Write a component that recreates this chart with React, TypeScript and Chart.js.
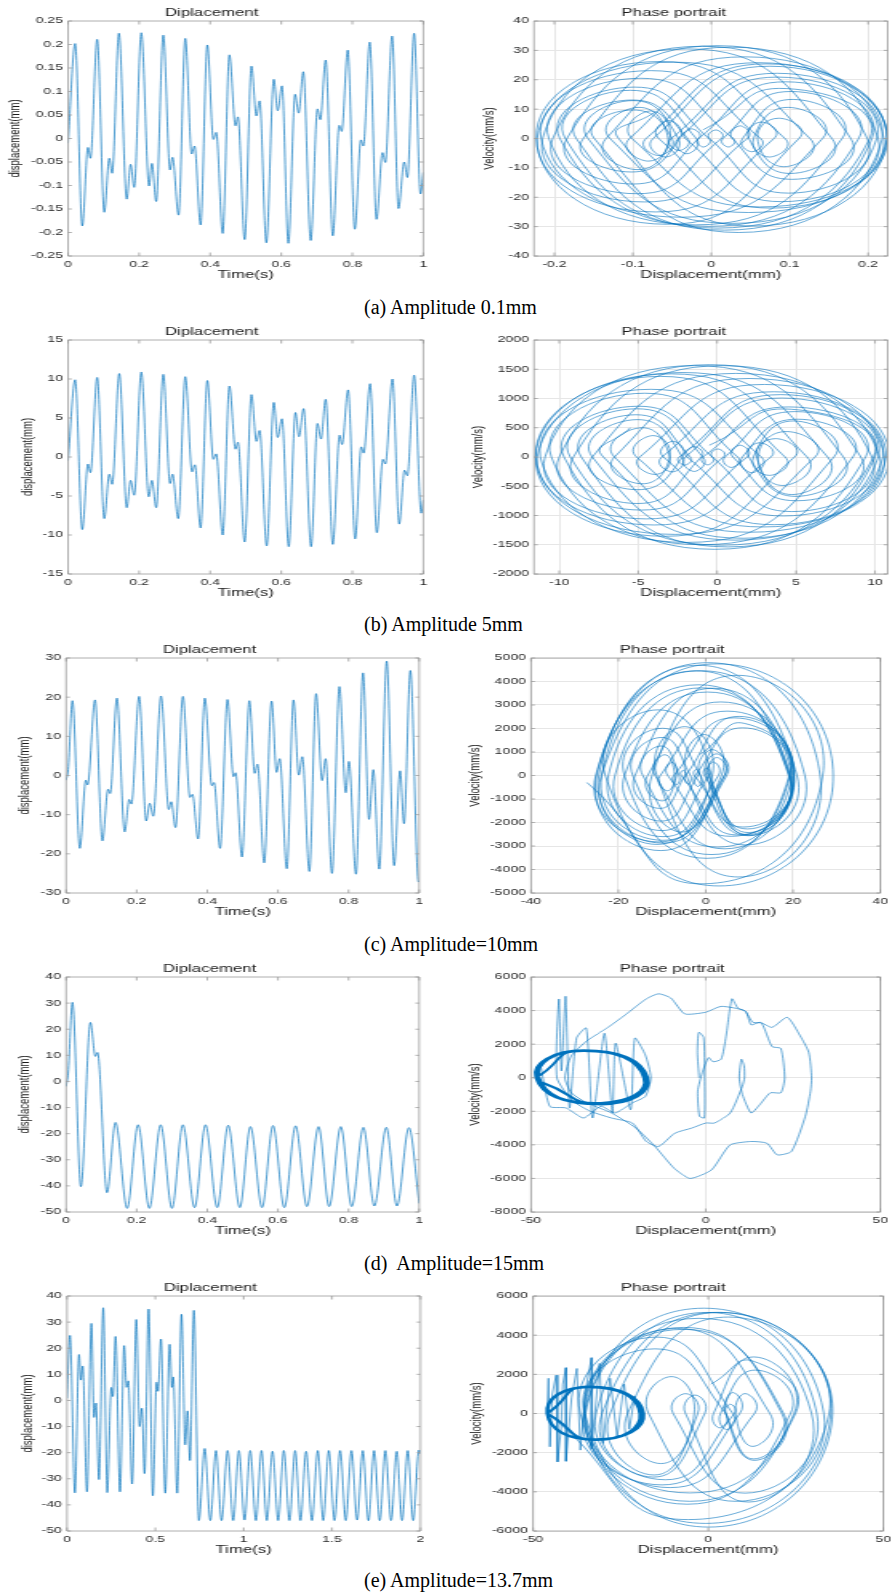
import React, { useEffect, useRef } from 'react';
import { Chart, registerables } from 'chart.js';

Chart.register(...registerables);

const SX = 1.6; // horizontal stretch of the original figure
const LINE = 'rgb(0,114,189)';
const BOX = '#9a9a9a';
const TICK_TXT = '#2a2a2a';
const GRID = '#e6e6e6';
const SANS = '"Liberation Sans", Arial, Helvetica, sans-serif';

// ---------- (a) displacement: extrema ----------
const dispAT = [0, 0.020, 0.040, 0.056, 0.063, 0.082, 0.102, 0.116, 0.124, 0.143, 0.165, 0.176, 0.186, 0.206, 0.228, 0.236, 0.248, 0.268, 0.287, 0.294, 0.311, 0.330, 0.348, 0.356, 0.373, 0.392, 0.409, 0.417, 0.435, 0.454, 0.471, 0.478, 0.497, 0.516, 0.530, 0.539, 0.558, 0.579, 0.590, 0.602, 0.620, 0.639, 0.649, 0.662, 0.683, 0.702, 0.710, 0.725, 0.745, 0.763, 0.770, 0.787, 0.807, 0.824, 0.831, 0.849, 0.868, 0.885, 0.893, 0.912, 0.930, 0.946, 0.955, 0.974, 0.992, 1.0];
const dispAY = [-0.010, 0.202, -0.186, -0.019, -0.042, 0.211, -0.157, -0.042, -0.074, 0.224, -0.129, -0.055, -0.104, 0.225, -0.101, -0.053, -0.134, 0.220, -0.067, -0.040, -0.163, 0.213, -0.033, -0.016, -0.184, 0.199, -0.002, 0.013, -0.202, 0.178, 0.027, 0.046, -0.215, 0.154, 0.048, 0.080, -0.222, 0.126, 0.059, 0.112, -0.223, 0.094, 0.054, 0.142, -0.217, 0.063, 0.040, 0.167, -0.207, 0.028, 0.015, 0.188, -0.193, -0.003, -0.016, 0.205, -0.172, -0.030, -0.051, 0.218, -0.149, -0.050, -0.083, 0.224, -0.118, -0.072];
const phaseAX = [-0.010, 0.096, 0.202, 0.008, -0.186, -0.103, -0.019, -0.031, -0.042, 0.085, 0.211, 0.027, -0.157, -0.100, -0.042, -0.058, -0.074, 0.075, 0.224, 0.048, -0.129, -0.092, -0.055, -0.080, -0.104, 0.061, 0.225, 0.062, -0.101, -0.077, -0.053, -0.094, -0.134, 0.043, 0.220, 0.077, -0.067, -0.054, -0.040, -0.102, -0.163, 0.025, 0.213, 0.090, -0.033, -0.025, -0.016, -0.100, -0.184, 0.008, 0.199, 0.099, -0.002, 0.006, 0.013, -0.095, -0.202, -0.012, 0.178, 0.103, 0.027, 0.037, 0.046, -0.085, -0.215, -0.031, 0.154, 0.101, 0.048, 0.064, 0.080, -0.071, -0.222, -0.048, 0.126, 0.093, 0.059, 0.086, 0.112, -0.056, -0.223, -0.065, 0.094, 0.074, 0.054, 0.098, 0.142, -0.038, -0.217, -0.077, 0.063, 0.052, 0.040, 0.104, 0.167, -0.020, -0.207, -0.090, 0.028, 0.022, 0.015, 0.102, 0.188, -0.003, -0.193, -0.098, -0.003, -0.010, -0.016, 0.095, 0.205, 0.017, -0.172, -0.101, -0.030, -0.041, -0.051, 0.084, 0.218, 0.035, -0.149, -0.100, -0.050, -0.067, -0.083, 0.071, 0.224, 0.053, -0.118, -0.072];
const phaseAV = [3, 17, 0, -30.5, 0, 16.4, 0, -5.2, 0, 20.9, 0, -28.9, 0, 12.9, 0, -6.3, 0, 24.6, 0, -25.2, 0, 10.6, 0, -7.7, 0, 25.8, 0, -23.3, 0, 9.4, 0, -10.6, 0, 27.8, 0, -23.7, 0, 6.1, 0, -11.4, 0, 31.1, 0, -21.5, 0, 3.3, 0, -15.5, 0, 31.6, 0, -18.6, 0, 2.9, 0, -18.8, 0, 31.4, 0, -13.9, 0, 4.3, 0, -21.6, 0, 30.5, 0, -11.9, 0, 5.6, 0, -25.0, 0, 26.0, 0, -9.6, 0, 6.9, 0, -29.2, 0, 26.2, 0, -6.3, 0, 10.6, 0, -26.8, 0, 23.1, 0, -4.5, 0, 13.3, 0, -29.4, 0, 20.5, 0, -2.9, 0, 16.0, 0, -29.9, 0, 17.5, 0, -2.9, 0, 19.3, 0, -31.2, 0, 13.1, 0, -4.1, 0, 22.2, 0, -32.0, 0, 9.7, 0, -5.8, 0, 25.4, 0, -29.8, 0, 9];

// ---------- (b) ----------
const dispBT = [0, 0.020, 0.040, 0.056, 0.063, 0.082, 0.102, 0.116, 0.124, 0.144, 0.165, 0.176, 0.186, 0.206, 0.227, 0.236, 0.248, 0.268, 0.287, 0.294, 0.310, 0.330, 0.349, 0.357, 0.373, 0.392, 0.409, 0.417, 0.435, 0.454, 0.471, 0.478, 0.497, 0.516, 0.530, 0.539, 0.559, 0.579, 0.590, 0.602, 0.621, 0.640, 0.650, 0.663, 0.684, 0.702, 0.712, 0.725, 0.745, 0.764, 0.771, 0.788, 0.808, 0.825, 0.832, 0.850, 0.869, 0.886, 0.893, 0.913, 0.932, 0.947, 0.955, 0.974, 0.994, 1.0];
const dispBY = [-0.5, 9.9, -9.3, -0.9, -2.0, 10.2, -7.9, -2.2, -3.5, 10.7, -6.5, -3.0, -4.9, 10.9, -5.1, -3.0, -6.5, 10.6, -3.4, -2.2, -7.9, 10.3, -1.9, -1.0, -9.1, 9.8, -0.3, 0.4, -10.0, 9.1, 1.0, 1.9, -10.9, 8.0, 2.0, 3.4, -11.4, 7.0, 2.5, 4.9, -11.5, 5.7, 2.6, 6.2, -11.5, 4.3, 2.3, 7.4, -11.2, 2.8, 1.6, 8.6, -10.5, 1.3, 0.5, 9.4, -9.7, -0.3, -0.9, 10.0, -8.6, -1.7, -2.4, 10.5, -7.2, -5.5];
const phaseBX = [-0.5, 4.7, 9.9, 0.3, -9.3, -5.1, -0.9, -1.45, -2.0, 4.1, 10.2, 1.15, -7.9, -5.05, -2.2, -2.85, -3.5, 3.6, 10.7, 2.1, -6.5, -4.75, -3.0, -3.95, -4.9, 3.0, 10.9, 2.9, -5.1, -4.05, -3.0, -4.75, -6.5, 2.05, 10.6, 3.6, -3.4, -2.8, -2.2, -5.05, -7.9, 1.2, 10.3, 4.2, -1.9, -1.45, -1.0, -5.05, -9.1, 0.35, 9.8, 4.75, -0.3, 0.05, 0.4, -4.8, -10.0, -0.45, 9.1, 5.05, 1.0, 1.45, 1.9, -4.5, -10.9, -1.45, 8.0, 5.0, 2.0, 2.7, 3.4, -4.0, -11.4, -2.2, 7.0, 4.75, 2.5, 3.7, 4.9, -3.3, -11.5, -2.9, 5.7, 4.15, 2.6, 4.4, 6.2, -2.65, -11.5, -3.6, 4.3, 3.3, 2.3, 4.85, 7.4, -1.9, -11.2, -4.2, 2.8, 2.2, 1.6, 5.1, 8.6, -0.95, -10.5, -4.6, 1.3, 0.9, 0.5, 4.95, 9.4, -0.15, -9.7, -5.0, -0.3, -0.6, -0.9, 4.55, 10.0, 0.7, -8.6, -5.15, -1.7, -2.05, -2.4, 4.05, 10.5, 1.65, -7.2, -5.5];
const phaseBV = [200, 816, 0, -1507, 0, 824, 0, -247, 0, 1008, 0, -1421, 0, 639, 0, -255, 0, 1115, 0, -1286, 0, 500, 0, -298, 0, 1240, 0, -1196, 0, 366, 0, -458, 0, 1342, 0, -1157, 0, 269, 0, -559, 0, 1429, 0, -1008, 0, 177, 0, -795, 0, 1562, 0, -933, 0, 137, 0, -907, 0, 1578, 0, -748, 0, 202, 0, -1058, 0, 1562, 0, -673, 0, 244, 0, -1162, 0, 1444, 0, -642, 0, 314, 0, -1355, 0, 1421, 0, -487, 0, 435, 0, -1323, 0, 1378, 0, -314, 0, 616, 0, -1460, 0, 1157, 0, -269, 0, 646, 0, -1499, 0, 1090, 0, -179, 0, 776, 0, -1578, 0, 868, 0, -135, 0, 856, 0, -1537, 0, 722, 0, -137, 0, 1066, 0, -1389, 0, 500];

// ---------- (c) ----------
const dispCT = [0, 0.006, 0.018, 0.039, 0.056, 0.061, 0.082, 0.103, 0.119, 0.125, 0.144, 0.166, 0.179, 0.185, 0.207, 0.227, 0.237, 0.247, 0.269, 0.291, 0.298, 0.310, 0.331, 0.351, 0.358, 0.374, 0.393, 0.413, 0.419, 0.436, 0.457, 0.474, 0.480, 0.498, 0.519, 0.534, 0.542, 0.561, 0.582, 0.596, 0.605, 0.625, 0.644, 0.659, 0.669, 0.689, 0.708, 0.725, 0.735, 0.753, 0.774, 0.792, 0.801, 0.821, 0.841, 0.858, 0.870, 0.887, 0.908, 0.929, 0.946, 0.957, 0.975, 0.998, 1.0];
const dispCY = [-1.2, 1.5, 19.1, -18.6, -1.2, -2.4, 19.3, -16.7, -3.5, -4.6, 19.75, -14.4, -6.1, -7.3, 20.2, -11.6, -7.1, -10.4, 20.3, -8.7, -6.7, -13.3, 20.2, -5.6, -4.8, -16.2, 19.75, -2.6, -1.8, -18.6, 19.4, -0.3, 0.7, -20.8, 19.1, 0.55, 2.9, -22.3, 19.0, 0.8, 4.3, -23.8, 19.3, 0.1, 4.8, -24.5, 20.9, -1.3, 4.3, -25.0, 22.7, -4.4, 3.6, -25.2, 26.2, -11.2, 1.5, -23.9, 29.2, -23.0, 1.2, -12.3, 26.8, -27.2, -27.0];
const phaseCX = [-1.2, 8.95, 19.1, 0.25, -18.6, -9.9, -1.2, -1.8, -2.4, 8.45, 19.3, 1.3, -16.7, -10.1, -3.5, -4.05, -4.6, 7.6, 19.75, 2.7, -14.4, -10.25, -6.1, -6.7, -7.3, 6.45, 20.2, 4.3, -11.6, -9.35, -7.1, -8.75, -10.4, 4.95, 20.3, 5.8, -8.7, -7.7, -6.7, -10.0, -13.3, 3.45, 20.2, 7.3, -5.6, -5.2, -4.8, -10.5, -16.2, 1.8, 19.75, 8.6, -2.6, -2.2, -1.8, -10.2, -18.6, 0.4, 19.4, 9.55, -0.3, 0.2, 0.7, -10.05, -20.8, -0.85, 19.1, 9.8, 0.55, 1.7, 2.9, -9.7, -22.3, -1.65, 19.0, 9.9, 0.8, 2.55, 4.3, -9.75, -23.8, -2.25, 19.3, 9.7, 0.1, 2.45, 4.8, -9.85, -24.5, -1.8, 20.9, 9.8, -1.3, 1.5, 4.3, -10.35, -25.0, -1.15, 22.7, 9.15, -4.4, -0.4, 3.6, -10.8, -25.2, 0.5, 26.2, 7.5, -11.2, -4.85, 1.5, -11.2, -23.9, 2.65, 29.2, 3.1, -23.0, -10.9, 1.2, -5.55, -12.3, 7.25, 26.8, -0.2, -27.2];
const phaseCV = [900, 2214, 0, -3524, 0, 2009, 0, -471, 0, 2028, 0, -3364, 0, 1619, 0, -360, 0, 2515, 0, -3046, 0, 1253, 0, -393, 0, 2453, 0, -3120, 0, 884, 0, -648, 0, 2739, 0, -2588, 0, 561, 0, -1080, 0, 3130, 0, -2531, 0, 224, 0, -1399, 0, 3714, 0, -2193, 0, 261, 0, -1940, 0, 3551, 0, -2274, 0, 328, 0, -2344, 0, 3729, 0, -2428, 0, 576, 0, -2603, 0, 3860, 0, -2551, 0, 764, 0, -2758, 0, 4451, 0, -2513, 0, 923, 0, -2875, 0, 4690, 0, -2563, 0, 1099, 0, -3195, 0, 4458, 0, -2955, 0, 1745, 0, -2826, 0, 4800, 0, -4318, 0, 2078, 0, -2933, 0, 4750, 0, -4700, 0, 2794, 0, -2409, 0, 4263, 0, -4608, -300];

// ---------- (d) ----------
const dispDT = [0, 0.006, 0.018, 0.042, 0.069, 0.083, 0.089, 0.116, 0.140, 0.173, 0.204, 0.236, 0.268, 0.300, 0.331, 0.364, 0.395, 0.428, 0.459, 0.492, 0.522, 0.555, 0.586, 0.618, 0.650, 0.682, 0.715, 0.745, 0.778, 0.809, 0.842, 0.873, 0.907, 0.937, 0.971, 1.0];
const dispDY = [-1.9, 3.2, 30.3, -40.3, 22.6, 9.6, 11.1, -42.6, -15.7, -48.6, -16.6, -48.6, -16.6, -48.6, -16.6, -48.3, -16.6, -48.3, -16.8, -48.3, -17.3, -48.3, -16.9, -48.3, -17.0, -47.9, -17.3, -47.9, -17.3, -47.9, -17.6, -47.7, -17.6, -47.7, -17.7, -46.7];
const phaseDX = [-1.9, -2.4, -2.0, -0.6, -0.3, -0.4, -1.8, -2.3, -1.0, 0.8, 2.1, 4.4, 5.8, 7.5, 9.2, 11.5, 13.0, 15.5, 19.0, 23.3, 27.0, 29.5, 30.3, 30.0, 28.5, 24.5, 20.5, 17.5, 13.0, 7.0, 1.6, -4.5, -9.0, -14.5, -20.0, -27.0, -34.0, -38.5, -40.3, -38.5, -34.0, -28.0, -23.0, -17.0, -13.5, -10.0, -6.0, 0.0, 4.4, 11.0, 13.5, 16.0, 19.0, 21.5, 22.6, 21.5, 18.5, 15.5, 13.0, 10.5, 9.6, 10.2, 11.0, 11.1, 10.5, 7.0, 2.5, 0.0, -4.0, -8.8, -13.5, -17.0, -21.0, -27.0, -33.0, -38.0, -42.6, -42.0, -41.3, -40.1, -39.0, -37.0, -34.2, -32.4, -29.0, -26.7, -25.8, -21.5, -20.3, -17.3, -15.7, -17.3, -21.0, -26.0, -30.0, -35.0, -40.0, -44.6, -47.5, -48.6];
const phaseDV = [0, 1500, 2700, 2400, 0, -2400, -2300, -800, 300, 1200, 950, 1100, 2450, 4700, 4150, 3950, 3150, 3300, 3000, 3600, 2500, 1500, 0, -800, -2300, -4400, -4600, -3900, -3800, -4000, -5500, -6000, -5400, -4100, -3000, -2100, -1500, -900, 0, 1300, 2200, 3000, 3750, 4700, 5000, 4750, 3800, 3900, 4250, 4000, 3300, 3250, 1850, 1750, 0, -900, -900, -1600, -2100, -1000, 0, 1100, 700, 0, -500, -2100, -2700, -2700, -3000, -3300, -4100, -3800, -2700, -2400, -2000, -1400, 0, 4690, 400, 4850, -1800, 2360, 2960, -2400, 2650, -2110, 2060, -1910, 2360, 1360, 0, -1120, -1500, -2100, -1700, -2400, -1800, -1720, 870, 0];
const phaseDSteadyX = [-48.6, -35, -16.6, -30, -48.6, -35, -16.6, -30, -48.3, -35, -16.8, -30, -48.3, -35, -17.3, -30, -48.3, -35, -17.0, -30, -47.9, -35, -17.3, -30, -47.9, -35, -17.6, -30, -47.7, -35, -17.7, -30, -46.7];
const phaseDSteadyV = [0, 1620, 0, -1580, 0, 1600, 0, -1570, 0, 1630, 0, -1560, 0, 1590, 0, -1580, 0, 1610, 0, -1560, 0, 1600, 0, -1570, 0, 1620, 0, -1590, 0, 1600, 0, -1500, -300];

// ---------- (e) ----------
const dispET = [0, 0.017, 0.045, 0.068, 0.079, 0.089, 0.113, 0.138, 0.153, 0.164, 0.181, 0.205, 0.228, 0.251, 0.260, 0.275, 0.300, 0.324, 0.337, 0.347, 0.369, 0.392, 0.411, 0.424, 0.439, 0.462, 0.486, 0.507, 0.515, 0.532, 0.556, 0.581, 0.594, 0.601, 0.624, 0.648, 0.669, 0.682, 0.696, 0.718, 0.746, 0.779, 0.811, 0.843, 0.875, 0.909, 0.941, 0.973, 1.005, 1.037, 1.069, 1.101, 1.131, 1.163, 1.195, 1.227, 1.259, 1.291, 1.321, 1.353, 1.386, 1.419, 1.450, 1.482, 1.514, 1.546, 1.578, 1.610, 1.642, 1.674, 1.706, 1.738, 1.770, 1.802, 1.834, 1.866, 1.896, 1.928, 1.959, 1.991, 2.0];
const dispEY = [0.8, 24.9, -35.4, 17.6, 7.8, 13.2, -35.0, 29.5, -6.5, -1.0, -30.3, 35.5, -35.3, 5.0, 1.5, 24.5, -35.0, 21.0, 5.0, 7.5, -32.0, 31.0, -10.0, -3.0, -28.0, 35.0, -36.5, 7.0, 3.5, 23.5, -35.5, 21.5, 5.0, 9.0, -35.5, 33.0, -17.0, -4.0, -23.0, 34.5, -46.0, -18.4, -46.0, -19.2, -46.0, -19.2, -46.0, -19.2, -45.8, -19.2, -46.0, -19.2, -46.0, -19.5, -46.0, -19.2, -46.0, -19.2, -46.0, -19.5, -46.0, -19.2, -46.0, -19.2, -46.0, -19.2, -46.0, -19.2, -45.8, -19.2, -46.0, -19.2, -46.0, -19.2, -46.0, -19.5, -46.0, -19.2, -46.0, -19.0, -20.5];
const phaseEX = [0.8, 12.85, 24.9, -5.25, -35.4, -8.9, 17.6, 12.7, 7.8, 10.5, 13.2, -10.9, -35.0, -2.75, 29.5, 11.5, -6.5, -3.75, -1.0, -15.65, -30.3, 2.6, 35.5, 0.1, -35.3, -15.15, 5.0, 3.25, 1.5, 13.0, 24.5, -5.25, -35.0, -7.0, 21.0, 13.0, 5.0, 6.25, 7.5, -12.25, -32.0, -0.5, 31.0, 10.5, -10.0, -6.5, -3.0, -15.5, -28.0, 3.5, 35.0, -0.75, -36.5, -14.75, 7.0, 5.25, 3.5, 13.5, 23.5, -6.0, -35.5, -7.0, 21.5, 13.25, 5.0, 7.0, 9.0, -13.25, -35.5, -1.25, 33.0, 8.0, -17.0, -10.5, -4.0, -13.5, -23.0, 5.75, 34.5, -5.75, -46.0];
const phaseEV = [1500, 2671, 0, -4057, 0, 4342, 0, -1679, 0, 1018, 0, -3784, 0, 4860, 0, -4522, 0, 942, 0, -3247, 0, 5165, 0, -5800, 0, 3301, 0, -733, 0, 2888, 0, -4484, 0, 4396, 0, -2318, 0, 472, 0, -3383, 0, 5160, 0, -4066, 0, 1014, 0, -3140, 0, 5160, 0, -5612, 0, 3902, 0, -824, 0, 2216, 0, -4632, 0, 4296, 0, -2392, 0, 1076, 0, -3646, 0, 5377, 0, -4486, 0, 1884, 0, -2557, 0, 4924, 0, -5417, 0];
const phaseENoiseX = [-46.0, -45.6, -45.2, -44.5, -43.4, -43.0, -42.0, -41.5, -40.6, -40.6, -39.0, -37.5, -36.5, -35.0, -33.3, -33.3, -31.0, -30.0, -28.0, -26.0, -24.0, -22.5, -21.0, -19.5];
const phaseENoiseV = [0, 1800, -1700, 1000, 1960, -2470, -800, 1500, 2340, -2440, 800, 2300, -1870, 1200, 2850, -1790, 2560, -1530, 1800, -1200, 1500, -800, 900, 0];
const phaseESteadyX = [-46.0, -34, -18.4, -32, -46.0, -34, -19.2, -32, -46.0, -34, -19.2, -32, -45.8, -34, -19.2, -32, -46.0, -34, -19.5, -32, -46.0, -34, -19.2, -32, -46.0];
const phaseESteadyV = [0, 1380, 0, -1340, 0, 1350, 0, -1320, 0, 1360, 0, -1330, 0, 1340, 0, -1350, 0, 1370, 0, -1330, 0, 1350, 0, -1340, 0];

// ---------- tick values ----------
const ticksTime1 = [0, 0.2, 0.4, 0.6, 0.8, 1];
const ticksTime2 = [0, 0.5, 1, 1.5, 2];
const ticksDispA = [-0.25, -0.2, -0.15, -0.1, -0.05, 0, 0.05, 0.1, 0.15, 0.2, 0.25];
const ticksDispB = [-15, -10, -5, 0, 5, 10, 15];
const ticksDispC = [-30, -20, -10, 0, 10, 20, 30];
const ticksDispDE = [-50, -40, -30, -20, -10, 0, 10, 20, 30, 40];
const ticksPhaseAX = [-0.2, -0.1, 0, 0.1, 0.2];
const ticksPhaseAV = [-40, -30, -20, -10, 0, 10, 20, 30, 40];
const ticksPhaseBX = [-10, -5, 0, 5, 10];
const ticksPhaseBV = [-2000, -1500, -1000, -500, 0, 500, 1000, 1500, 2000];
const ticksPhaseCX = [-40, -20, 0, 20, 40];
const ticksPhaseCV = [-5000, -4000, -3000, -2000, -1000, 0, 1000, 2000, 3000, 4000, 5000];
const ticksPhaseDEX = [-50, 0, 50];
const ticksPhaseDV = [-8000, -6000, -4000, -2000, 0, 2000, 4000, 6000];
const ticksPhaseEV = [-6000, -4000, -2000, 0, 2000, 4000, 6000];

const captions = [
  { text: '(a) Amplitude 0.1mm', baseline: 313.5 },
  { text: '(b) Amplitude 5mm', baseline: 631 },
  { text: '(c) Amplitude=10mm', baseline: 951 },
  { text: '(d)  Amplitude=15mm', baseline: 1270 },
  { text: '(e) Amplitude=13.7mm', baseline: 1587 },
];

const zip = (xs: number[], ys: number[]) => {
  const n = Math.min(xs.length, ys.length);
  const out: { x: number; y: number }[] = [];
  for (let i = 0; i < n; i++) out.push({ x: xs[i], y: ys[i] });
  return out;
};

type Series = { data: { x: number; y: number }[]; width: number; tension: number; monotone?: boolean };
type Panel = {
  key: string;
  canvasLeft: number;
  plot: [number, number, number, number];
  title: string;
  xTitle: string;
  yTitle: string;
  yTitleCenter: number;
  xMin: number; xMax: number; yMin: number; yMax: number;
  xTicks: number[]; yTicks: number[];
  grid: boolean;
  series: Series[];
};

const dispSeries = (t: number[], y: number[]): Series[] => [{ data: zip(t, y), width: 0.7, tension: 0.4, monotone: true }];

const panels: Panel[] = [
  { key: 'aL', canvasLeft: 0, plot: [68, 21, 423, 256], title: 'Diplacement', xTitle: 'Time(s)', yTitle: 'displacement(mm)', yTitleCenter: 15.5, xMin: 0, xMax: 1, yMin: -0.25, yMax: 0.25, xTicks: ticksTime1, yTicks: ticksDispA, grid: false, series: dispSeries(dispAT, dispAY) },
  { key: 'aR', canvasLeft: 460, plot: [534, 21, 888, 256], title: 'Phase portrait', xTitle: 'Displacement(mm)', yTitle: 'Velocity(mm/s)', yTitleCenter: 30, xMin: -0.226, xMax: 0.225, yMin: -40, yMax: 40, xTicks: ticksPhaseAX, yTicks: ticksPhaseAV, grid: true, series: [{ data: zip(phaseAX, phaseAV), width: 0.6, tension: 0.56 }] },
  { key: 'bL', canvasLeft: 0, plot: [68, 340, 423, 574], title: 'Diplacement', xTitle: 'Time(s)', yTitle: 'displacement(mm)', yTitleCenter: 27, xMin: 0, xMax: 1, yMin: -15, yMax: 15, xTicks: ticksTime1, yTicks: ticksDispB, grid: false, series: dispSeries(dispBT, dispBY) },
  { key: 'bR', canvasLeft: 460, plot: [534, 340, 888, 574], title: 'Phase portrait', xTitle: 'Displacement(mm)', yTitle: 'Velocity(mm/s)', yTitleCenter: 18, xMin: -11.6, xMax: 10.8, yMin: -2000, yMax: 2000, xTicks: ticksPhaseBX, yTicks: ticksPhaseBV, grid: true, series: [{ data: zip(phaseBX, phaseBV), width: 0.6, tension: 0.56 }] },
  { key: 'cL', canvasLeft: 0, plot: [66, 658, 419, 893], title: 'Diplacement', xTitle: 'Time(s)', yTitle: 'displacement(mm)', yTitleCenter: 25, xMin: 0, xMax: 1, yMin: -30, yMax: 30, xTicks: ticksTime1, yTicks: ticksDispC, grid: false, series: dispSeries(dispCT, dispCY) },
  { key: 'cR', canvasLeft: 460, plot: [531, 658, 884, 893], title: 'Phase portrait', xTitle: 'Displacement(mm)', yTitle: 'Velocity(mm/s)', yTitleCenter: 15, xMin: -40, xMax: 40, yMin: -5000, yMax: 5000, xTicks: ticksPhaseCX, yTicks: ticksPhaseCV, grid: true, series: [{ data: zip(phaseCX, phaseCV), width: 0.6, tension: 0.56 }] },
  { key: 'dL', canvasLeft: 0, plot: [66, 977, 419, 1212], title: 'Diplacement', xTitle: 'Time(s)', yTitle: 'displacement(mm)', yTitleCenter: 25, xMin: 0, xMax: 1, yMin: -50, yMax: 40, xTicks: ticksTime1, yTicks: ticksDispDE, grid: false, series: dispSeries(dispDT, dispDY) },
  { key: 'dR', canvasLeft: 460, plot: [531, 977, 884, 1212], title: 'Phase portrait', xTitle: 'Displacement(mm)', yTitle: 'Velocity(mm/s)', yTitleCenter: 15, xMin: -50, xMax: 50, yMin: -8000, yMax: 6000, xTicks: ticksPhaseDEX, yTicks: ticksPhaseDV, grid: true, series: [
    { data: zip(phaseDX, phaseDV), width: 0.6, tension: 0.2 },
    { data: zip(phaseDSteadyX, phaseDSteadyV), width: 2.0, tension: 0.6 },
  ] },
  { key: 'eL', canvasLeft: 0, plot: [67, 1296, 421, 1531], title: 'Diplacement', xTitle: 'Time(s)', yTitle: 'displacement(mm)', yTitleCenter: 27.5, xMin: 0, xMax: 2, yMin: -50, yMax: 40, xTicks: ticksTime2, yTicks: ticksDispDE, grid: false, series: dispSeries(dispET, dispEY) },
  { key: 'eR', canvasLeft: 460, plot: [533, 1296, 886, 1531], title: 'Phase portrait', xTitle: 'Displacement(mm)', yTitle: 'Velocity(mm/s)', yTitleCenter: 17, xMin: -50, xMax: 50, yMin: -6000, yMax: 6000, xTicks: ticksPhaseDEX, yTicks: ticksPhaseEV, grid: true, series: [
    { data: zip(phaseEX, phaseEV), width: 0.6, tension: 0.55 },
    { data: zip(phaseENoiseX, phaseENoiseV), width: 0.6, tension: 0 },
    { data: zip(phaseESteadyX, phaseESteadyV), width: 2.0, tension: 0.6 },
  ] },
];

const boxPlugin = {
  id: 'matlabBox',
  afterDraw(chart: any) {
    const { ctx, chartArea } = chart;
    const { left, right, top, bottom } = chartArea;
    const xs = chart.scales.x;
    const ys = chart.scales.y;
    ctx.save();
    ctx.strokeStyle = BOX;
    ctx.lineWidth = 0.8;
    ctx.beginPath();
    ctx.rect(left, top, right - left, bottom - top);
    for (const t of xs.ticks) {
      const px = xs.getPixelForValue(t.value);
      ctx.moveTo(px, bottom);
      ctx.lineTo(px, bottom - 3.5);
      ctx.moveTo(px, top);
      ctx.lineTo(px, top + 3.5);
    }
    for (const t of ys.ticks) {
      const py = ys.getPixelForValue(t.value);
      ctx.moveTo(left, py);
      ctx.lineTo(left + 2.4, py);
      ctx.moveTo(right, py);
      ctx.lineTo(right - 2.4, py);
    }
    ctx.stroke();
    ctx.restore();
  },
};

const TITLE_H = 14;
const XAXIS_H = 30;
const RPAD = 10;

function PanelChart({ p }: { p: Panel }) {
  const ref = useRef<HTMLCanvasElement>(null);
  const [L, T, R, B] = p.plot;
  const logicalW = Math.round((R - p.canvasLeft + RPAD) / SX);
  const pageW = logicalW * SX;
  const pageH = B - T + TITLE_H + XAXIS_H;

  useEffect(() => {
    const canvas = ref.current;
    if (!canvas) return;
    const yAxisW = (L - p.canvasLeft) / SX;
    const plotW = (R - L) / SX;
    const rightPad = logicalW - yAxisW - plotW;
    const tickFont = { family: SANS, size: 8.8 };
    const chart = new Chart(canvas, {
      type: 'line',
      data: {
        datasets: p.series.map((s) => ({
          data: s.data,
          borderColor: LINE,
          backgroundColor: LINE,
          borderWidth: s.width,
          pointRadius: 0,
          pointHoverRadius: 0,
          fill: false,
          tension: s.tension,
          cubicInterpolationMode: s.monotone ? 'monotone' : 'default',
        })),
      },
      options: {
        responsive: false,
        animation: false,
        events: [],
        layout: { padding: { left: 0, right: rightPad, top: 0, bottom: 0 } },
        plugins: {
          legend: { display: false },
          tooltip: { enabled: false },
          title: {
            display: true,
            text: p.title,
            color: '#1a1a1a',
            font: { family: SANS, size: 10.5, weight: 'normal' },
            padding: { top: 0.2, bottom: 1.2 },
          },
        },
        scales: {
          x: {
            type: 'linear',
            position: 'bottom',
            bounds: 'data',
            min: p.xMin,
            max: p.xMax,
            grid: { display: p.grid, color: GRID, lineWidth: 1, drawTicks: false },
            border: { display: false },
            ticks: { font: tickFont, color: TICK_TXT, padding: 3.6, maxRotation: 0, autoSkip: false, callback: (v: any) => String(v) },
            title: { display: true, text: p.xTitle, color: '#1a1a1a', font: { family: SANS, size: 10.5 }, padding: { top: 0, bottom: 4.2 } },
            afterBuildTicks: (s: any) => { s.ticks = p.xTicks.map((v) => ({ value: v })); },
            afterFit: (s: any) => { s.height = XAXIS_H; },
          },
          y: {
            type: 'linear',
            position: 'left',
            bounds: 'data',
            min: p.yMin,
            max: p.yMax,
            grid: { display: p.grid, color: GRID, lineWidth: 1, drawTicks: false },
            border: { display: false },
            ticks: { font: tickFont, color: TICK_TXT, padding: 3.2, autoSkip: false, callback: (v: any) => String(v) },
            title: { display: true, text: p.yTitle, color: '#1a1a1a', font: { family: SANS, size: 9.5 }, padding: { top: p.yTitleCenter / SX - 5.7, bottom: 0 } },
            afterBuildTicks: (s: any) => { s.ticks = p.yTicks.map((v) => ({ value: v })); },
            afterFit: (s: any) => { s.width = yAxisW; },
          },
        },
      } as any,
      plugins: [boxPlugin],
    } as any);
    return () => chart.destroy();
  }, []);

  return (
    <canvas
      ref={ref}
      width={logicalW}
      height={pageH}
      style={{ position: 'absolute', left: p.canvasLeft, top: T - TITLE_H, width: pageW, height: pageH }}
    />
  );
}

export default function App() {
  return (
    <div style={{ position: 'absolute', left: 0, top: 0, width: 894, height: 1596, background: '#fff', overflow: 'hidden' }}>
      {panels.map((p) => (
        <PanelChart key={p.key} p={p} />
      ))}
      {captions.map((c) => (
        <div
          key={c.text}
          style={{
            position: 'absolute',
            left: 364,
            top: c.baseline - 18.75,
            fontFamily: '"Liberation Serif", "Times New Roman", serif',
            fontSize: 20,
            lineHeight: '24px',
            whiteSpace: 'pre',
            color: '#000',
          }}
        >
          {c.text}
        </div>
      ))}
    </div>
  );
}
